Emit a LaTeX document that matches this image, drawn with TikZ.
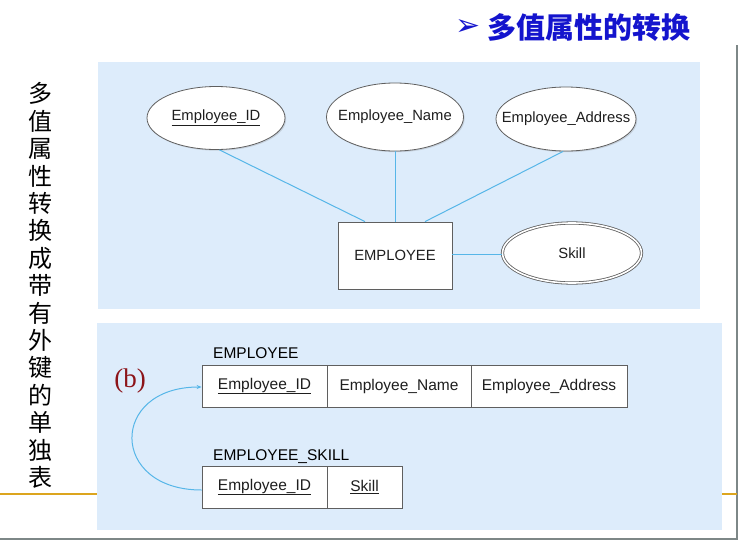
\documentclass[tikz,border=0pt]{standalone}
\usepackage{fontspec}
\usetikzlibrary{shapes.geometric,arrows.meta,shadows}
\newfontfamily\lsans{Liberation Sans}
\newfontfamily\lserif{Liberation Serif}
\newfontfamily\cjk{Noto Sans CJK SC}
\newfontfamily\djv{DejaVu Sans}
\definecolor{panelblue}{RGB}{221,236,251}
\definecolor{linkblue}{RGB}{86,182,232}
\definecolor{titleblue}{RGB}{20,20,205}
\definecolor{edgegray}{RGB}{95,95,95}
\definecolor{txtgray}{RGB}{30,30,30}
\definecolor{framegray}{RGB}{125,135,135}
\definecolor{gold}{RGB}{220,165,30}
\definecolor{bred}{RGB}{140,20,25}
\newcommand{\zbox}[1]{\makebox[0pt]{#1}}
\tikzset{
  er/.style={font=\lsans\fontsize{15.5}{17}\selectfont, text=txtgray},
  attr/.style={er, font=\lsans\fontsize{14.8}{17}\selectfont, ellipse, draw=edgegray, line width=0.8pt, fill=white, inner sep=0pt,
    drop shadow={shadow xshift=1.2pt, shadow yshift=-1.2pt, opacity=0.25}},
  entity/.style={er, font=\lsans\fontsize{14.8}{17}\selectfont, rectangle, draw=edgegray, line width=0.8pt, fill=white, inner sep=0pt,
    minimum width=114pt, minimum height=67pt,
    drop shadow={shadow xshift=1.2pt, shadow yshift=-1.2pt, opacity=0.25}},
  cell/.style={er, rectangle, draw=edgegray, line width=0.8pt, fill=white, inner sep=0pt,
    minimum height=42pt},
  link/.style={draw=linkblue, line width=1pt},
  tlabel/.style={er, anchor=base west, inner sep=0pt, text=black},
}
\begin{document}
\begin{tikzpicture}[x=1pt,y=-1pt]
\useasboundingbox (0,0) rectangle (738,541);
% frame lines
\draw[framegray, line width=1.5pt] (737,45) -- (737,539) -- (0,539);
\draw[gold, line width=1.8pt] (0,494) -- (97,494);
\draw[gold, line width=1.8pt] (722,494) -- (737,494);
% panels
\fill[panelblue] (98,62) rectangle (700,309);
\fill[panelblue] (97,323) rectangle (722,530);
% title
\node[anchor=west, inner sep=0pt, text=titleblue, font=\djv\fontsize{30}{32}\selectfont] (tarrow) at (455,28) {➢};
\node[anchor=west, inner sep=0pt, text=titleblue, font=\cjk\bfseries\fontsize{29}{31}\selectfont] (title) at (487,28) {多值属性的转换};
% side text
\node[align=center, inner sep=0pt, font=\cjk\fontsize{24}{27.4}\selectfont] (side) at (40,285.5)
  {多\\值\\属\\性\\转\\换\\成\\带\\有\\外\\键\\的\\单\\独\\表};
% ER diagram
\node[attr, minimum width=138pt, minimum height=63pt] (eid) at (216,118) {\zbox{\underline{Employee\_ID}}};
\node[attr, minimum width=137pt, minimum height=68pt] (ename) at (395,117) {\zbox{Employee\_Name}};
\node[attr, minimum width=140pt, minimum height=64pt] (eaddr) at (566,119) {\zbox{Employee\_Address}};
\node[entity] (emp) at (395,255.5) {EMPLOYEE};
\node[attr, minimum width=139pt, minimum height=60pt, double=white, double distance=1.6pt] (skill) at (572,253) {\zbox{Skill}};
\draw[link] (eid.-84) -- ([xshift=-30pt]emp.north);
\draw[link] (ename.south) -- (emp.north);
\draw[link] (eaddr.-95) -- ([xshift=30pt]emp.north);
\draw[link] ([yshift=1.5pt]emp.east) -- ([yshift=1.5pt]emp.east -| skill.west);
% relational tables
\node[tlabel] (lemp) at (213,358) {EMPLOYEE};
\node[cell, minimum width=125pt] (c1) at (264.5,386) {\underline{Employee\_ID}};
\node[cell, minimum width=144pt] (c2) at (399,386) {Employee\_Name};
\node[cell, minimum width=156pt] (c3) at (549,386) {Employee\_Address};
\node[tlabel] (lskill) at (213,460) {EMPLOYEE\_SKILL};
\node[cell, minimum width=125pt] (s1) at (264.5,487) {\underline{Employee\_ID}};
\node[cell, minimum width=75pt] (s2) at (364.5,487) {\underline{Skill}};
\node[font=\lserif\fontsize{27}{29}\selectfont, text=bred, inner sep=0pt] (b) at (130,381) {(b)};
\draw[link, -{Stealth[length=5pt,width=4pt]}] ([yshift=-3pt]s1.west) to[out=180,in=180,looseness=2.3] ([yshift=-1pt]c1.west);
\end{tikzpicture}
\end{document}
